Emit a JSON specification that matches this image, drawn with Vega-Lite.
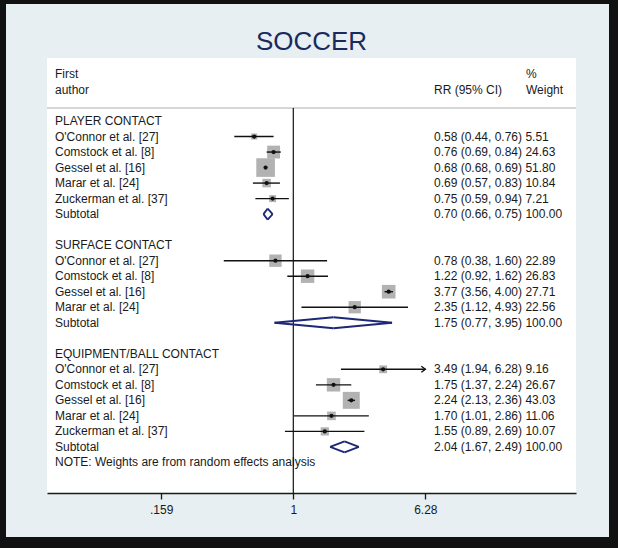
{
  "$schema": "https://vega.github.io/schema/vega-lite/v6.json",
  "width": 529,
  "height": 435,
  "autosize": {"type": "none"},
  "padding": {"left": 47, "top": 58, "right": 42, "bottom": 55},
  "background": "#e7eff2",
  "title": {"text": "SOCCER", "fontSize": 26, "font": "Liberation Sans", "fontWeight": "normal", "color": "#1b2a5e", "anchor": "middle", "frame": "group", "baseline": "alphabetic", "offset": -84},
  "config": {"view": {"fill": "white", "stroke": null}, "font": "Liberation Sans"},
  "datasets": {
    "rows": [
      {"row": 1, "label": "PLAYER CONTACT", "type": "group"},
      {"row": 2, "label": "O'Connor et al. [27]", "type": "study", "est": 0.58, "lo": 0.44, "hi": 0.76, "w": 5.51, "stats": "0.58 (0.44, 0.76) 5.51"},
      {"row": 3, "label": "Comstock et al. [8]", "type": "study", "est": 0.76, "lo": 0.69, "hi": 0.84, "w": 24.63, "stats": "0.76 (0.69, 0.84) 24.63"},
      {"row": 4, "label": "Gessel et al. [16]", "type": "study", "est": 0.68, "lo": 0.68, "hi": 0.69, "w": 51.80, "stats": "0.68 (0.68, 0.69) 51.80"},
      {"row": 5, "label": "Marar et al. [24]", "type": "study", "est": 0.69, "lo": 0.57, "hi": 0.83, "w": 10.84, "stats": "0.69 (0.57, 0.83) 10.84"},
      {"row": 6, "label": "Zuckerman et al. [37]", "type": "study", "est": 0.75, "lo": 0.59, "hi": 0.94, "w": 7.21, "stats": "0.75 (0.59, 0.94) 7.21"},
      {"row": 7, "label": "Subtotal", "type": "subtotal", "est": 0.70, "lo": 0.66, "hi": 0.75, "w": 100.00, "stats": "0.70 (0.66, 0.75) 100.00"},
      {"row": 9, "label": "SURFACE CONTACT", "type": "group"},
      {"row": 10, "label": "O'Connor et al. [27]", "type": "study", "est": 0.78, "lo": 0.38, "hi": 1.60, "w": 22.89, "stats": "0.78 (0.38, 1.60) 22.89"},
      {"row": 11, "label": "Comstock et al. [8]", "type": "study", "est": 1.22, "lo": 0.92, "hi": 1.62, "w": 26.83, "stats": "1.22 (0.92, 1.62) 26.83"},
      {"row": 12, "label": "Gessel et al. [16]", "type": "study", "est": 3.77, "lo": 3.56, "hi": 4.00, "w": 27.71, "stats": "3.77 (3.56, 4.00) 27.71"},
      {"row": 13, "label": "Marar et al. [24]", "type": "study", "est": 2.35, "lo": 1.12, "hi": 4.93, "w": 22.56, "stats": "2.35 (1.12, 4.93) 22.56"},
      {"row": 14, "label": "Subtotal", "type": "subtotal", "est": 1.75, "lo": 0.77, "hi": 3.95, "w": 100.00, "stats": "1.75 (0.77, 3.95) 100.00"},
      {"row": 16, "label": "EQUIPMENT/BALL CONTACT", "type": "group"},
      {"row": 17, "label": "O'Connor et al. [27]", "type": "study", "est": 3.49, "lo": 1.94, "hi": 6.28, "w": 9.16, "stats": "3.49 (1.94, 6.28) 9.16"},
      {"row": 18, "label": "Comstock et al. [8]", "type": "study", "est": 1.75, "lo": 1.37, "hi": 2.24, "w": 26.67, "stats": "1.75 (1.37, 2.24) 26.67"},
      {"row": 19, "label": "Gessel et al. [16]", "type": "study", "est": 2.24, "lo": 2.13, "hi": 2.36, "w": 43.03, "stats": "2.24 (2.13, 2.36) 43.03"},
      {"row": 20, "label": "Marar et al. [24]", "type": "study", "est": 1.70, "lo": 1.01, "hi": 2.86, "w": 11.06, "stats": "1.70 (1.01, 2.86) 11.06"},
      {"row": 21, "label": "Zuckerman et al. [37]", "type": "study", "est": 1.55, "lo": 0.89, "hi": 2.69, "w": 10.07, "stats": "1.55 (0.89, 2.69) 10.07"},
      {"row": 22, "label": "Subtotal", "type": "subtotal", "est": 2.04, "lo": 1.67, "hi": 2.49, "w": 100.00, "stats": "2.04 (1.67, 2.49) 100.00"},
      {"row": 23, "label": "NOTE: Weights are from random effects analysis", "type": "note"}
    ],
    "heads": [
      {"row": -2, "text": "First", "col": "left"},
      {"row": -1, "text": "author", "col": "left"},
      {"row": -1, "text": "RR (95% CI)", "col": "rr"},
      {"row": -2, "text": "%", "col": "wt"},
      {"row": -1, "text": "Weight", "col": "wt"}
    ]
  },
  "data": {"name": "rows"},
  "layer": [
    {
      "transform": [{"filter": "datum.type == 'study'"}],
      "mark": {"type": "point", "shape": "square", "filled": true, "color": "#b2b2b2", "opacity": 1},
      "encoding": {
        "x": {"field": "est", "type": "quantitative", "title": null,
          "scale": {"type": "log", "domain": [0.032487, 51.07], "nice": false},
          "axis": {"orient": "bottom", "values": [0.159, 1, 6.28], "labelExpr": "datum.value < 0.5 ? '.159' : datum.value < 2 ? '1' : '6.28'", "title": null, "grid": false, "domain": true, "ticks": true, "domainColor": "#1a1a1a", "domainWidth": 1.3, "tickColor": "#1a1a1a", "tickWidth": 1.3, "tickSize": 6, "labelFontSize": 12, "labelColor": "#1a1a1a", "labelFont": "Liberation Sans", "labelPadding": 5, "labelFlush": false, "labelOverlap": false, "zindex": 2}},
        "y": {"field": "row", "type": "quantitative", "axis": null, "scale": {"domain": [-3.06, 24.97], "reverse": true, "nice": false, "zero": false}},
        "size": {"field": "w", "type": "quantitative", "legend": null, "scale": {"type": "linear", "domain": [0, 100], "range": [0, 670], "zero": true}}
      }
    },
    {
      "data": {"values": [{}]},
      "mark": {"type": "rect", "filled": false, "stroke": "#111111", "strokeWidth": 12},
      "encoding": {
        "x": {"datum": 0.016895, "type": "quantitative", "title": null},
        "x2": {"datum": 87.87},
        "y": {"datum": -6.925, "type": "quantitative", "axis": null},
        "y2": {"datum": 28.19}
      }
    },
    {
      "data": {"values": [{}]},
      "mark": {"type": "rule", "color": "#c9c9c9", "strokeWidth": 1.5},
      "encoding": {
        "y": {"datum": 0.16, "type": "quantitative", "axis": null}
      }
    },
    {
      "data": {"values": [{}]},
      "mark": {"type": "rule", "color": "#111111", "strokeWidth": 1.2},
      "encoding": {
        "x": {"datum": 1, "type": "quantitative", "title": null},
        "y": {"datum": 0.16, "type": "quantitative", "axis": null},
        "y2": {"datum": 24.97}
      }
    },
    {
      "transform": [{"filter": "datum.type == 'study'"}],
      "mark": {"type": "rule", "color": "#111111", "strokeWidth": 1.4},
      "encoding": {
        "x": {"field": "lo", "type": "quantitative", "title": null},
        "x2": {"field": "hi"},
        "y": {"field": "row", "type": "quantitative", "axis": null}
      }
    },
    {
      "transform": [{"filter": "datum.type == 'study'"}],
      "mark": {"type": "point", "shape": "circle", "filled": true, "color": "#111111", "opacity": 1, "size": 18},
      "encoding": {
        "x": {"field": "est", "type": "quantitative", "title": null},
        "y": {"field": "row", "type": "quantitative", "axis": null}
      }
    },
    {
      "transform": [{"filter": "datum.type == 'study' && datum.hi >= 6.28"}],
      "mark": {"type": "point", "shape": "M-1.6,-1.2L0,0L-1.6,1.2", "filled": false, "stroke": "#111111", "strokeWidth": 1.4, "opacity": 1, "size": 25},
      "encoding": {
        "x": {"field": "hi", "type": "quantitative", "title": null},
        "y": {"field": "row", "type": "quantitative", "axis": null}
      }
    },
    {
      "transform": [{"filter": "datum.type == 'subtotal'"}],
      "mark": {"type": "rule", "color": "#1c2777", "strokeWidth": 1.8, "y2Offset": -5.5},
      "encoding": {
        "x": {"field": "lo", "type": "quantitative", "title": null},
        "x2": {"field": "est"},
        "y": {"field": "row", "type": "quantitative", "axis": null},
        "y2": {"field": "row"}
      }
    },
    {
      "transform": [{"filter": "datum.type == 'subtotal'"}],
      "mark": {"type": "rule", "color": "#1c2777", "strokeWidth": 1.8, "y2Offset": 5.5},
      "encoding": {
        "x": {"field": "lo", "type": "quantitative", "title": null},
        "x2": {"field": "est"},
        "y": {"field": "row", "type": "quantitative", "axis": null},
        "y2": {"field": "row"}
      }
    },
    {
      "transform": [{"filter": "datum.type == 'subtotal'"}],
      "mark": {"type": "rule", "color": "#1c2777", "strokeWidth": 1.8, "yOffset": -5.5},
      "encoding": {
        "x": {"field": "est", "type": "quantitative", "title": null},
        "x2": {"field": "hi"},
        "y": {"field": "row", "type": "quantitative", "axis": null},
        "y2": {"field": "row"}
      }
    },
    {
      "transform": [{"filter": "datum.type == 'subtotal'"}],
      "mark": {"type": "rule", "color": "#1c2777", "strokeWidth": 1.8, "yOffset": 5.5},
      "encoding": {
        "x": {"field": "est", "type": "quantitative", "title": null},
        "x2": {"field": "hi"},
        "y": {"field": "row", "type": "quantitative", "axis": null},
        "y2": {"field": "row"}
      }
    },
    {
      "mark": {"type": "text", "align": "left", "baseline": "middle", "fontSize": 12, "color": "#1a1a1a", "font": "Liberation Sans"},
      "encoding": {
        "x": {"datum": 0.0363, "type": "quantitative", "title": null},
        "y": {"field": "row", "type": "quantitative", "axis": null},
        "text": {"field": "label"}
      }
    },
    {
      "transform": [{"filter": "isValid(datum.stats)"}],
      "mark": {"type": "text", "align": "left", "baseline": "middle", "fontSize": 12, "color": "#1a1a1a", "font": "Liberation Sans"},
      "encoding": {
        "x": {"datum": 7.08, "type": "quantitative", "title": null},
        "y": {"field": "row", "type": "quantitative", "axis": null},
        "text": {"field": "stats"}
      }
    },
    {
      "data": {"name": "heads"},
      "transform": [{"filter": "datum.col == 'left'"}],
      "mark": {"type": "text", "align": "left", "baseline": "middle", "fontSize": 12, "color": "#1a1a1a", "font": "Liberation Sans"},
      "encoding": {
        "x": {"datum": 0.0363, "type": "quantitative", "title": null},
        "y": {"field": "row", "type": "quantitative", "axis": null},
        "text": {"field": "text"}
      }
    },
    {
      "data": {"name": "heads"},
      "transform": [{"filter": "datum.col == 'rr'"}],
      "mark": {"type": "text", "align": "right", "baseline": "middle", "fontSize": 12, "color": "#1a1a1a", "font": "Liberation Sans"},
      "encoding": {
        "x": {"datum": 18.24, "type": "quantitative", "title": null},
        "y": {"field": "row", "type": "quantitative", "axis": null},
        "text": {"field": "text"}
      }
    },
    {
      "data": {"name": "heads"},
      "transform": [{"filter": "datum.col == 'wt'"}],
      "mark": {"type": "text", "align": "left", "baseline": "middle", "fontSize": 12, "color": "#1a1a1a", "font": "Liberation Sans"},
      "encoding": {
        "x": {"datum": 25.47, "type": "quantitative", "title": null},
        "y": {"field": "row", "type": "quantitative", "axis": null},
        "text": {"field": "text"}
      }
    }
  ]
}
